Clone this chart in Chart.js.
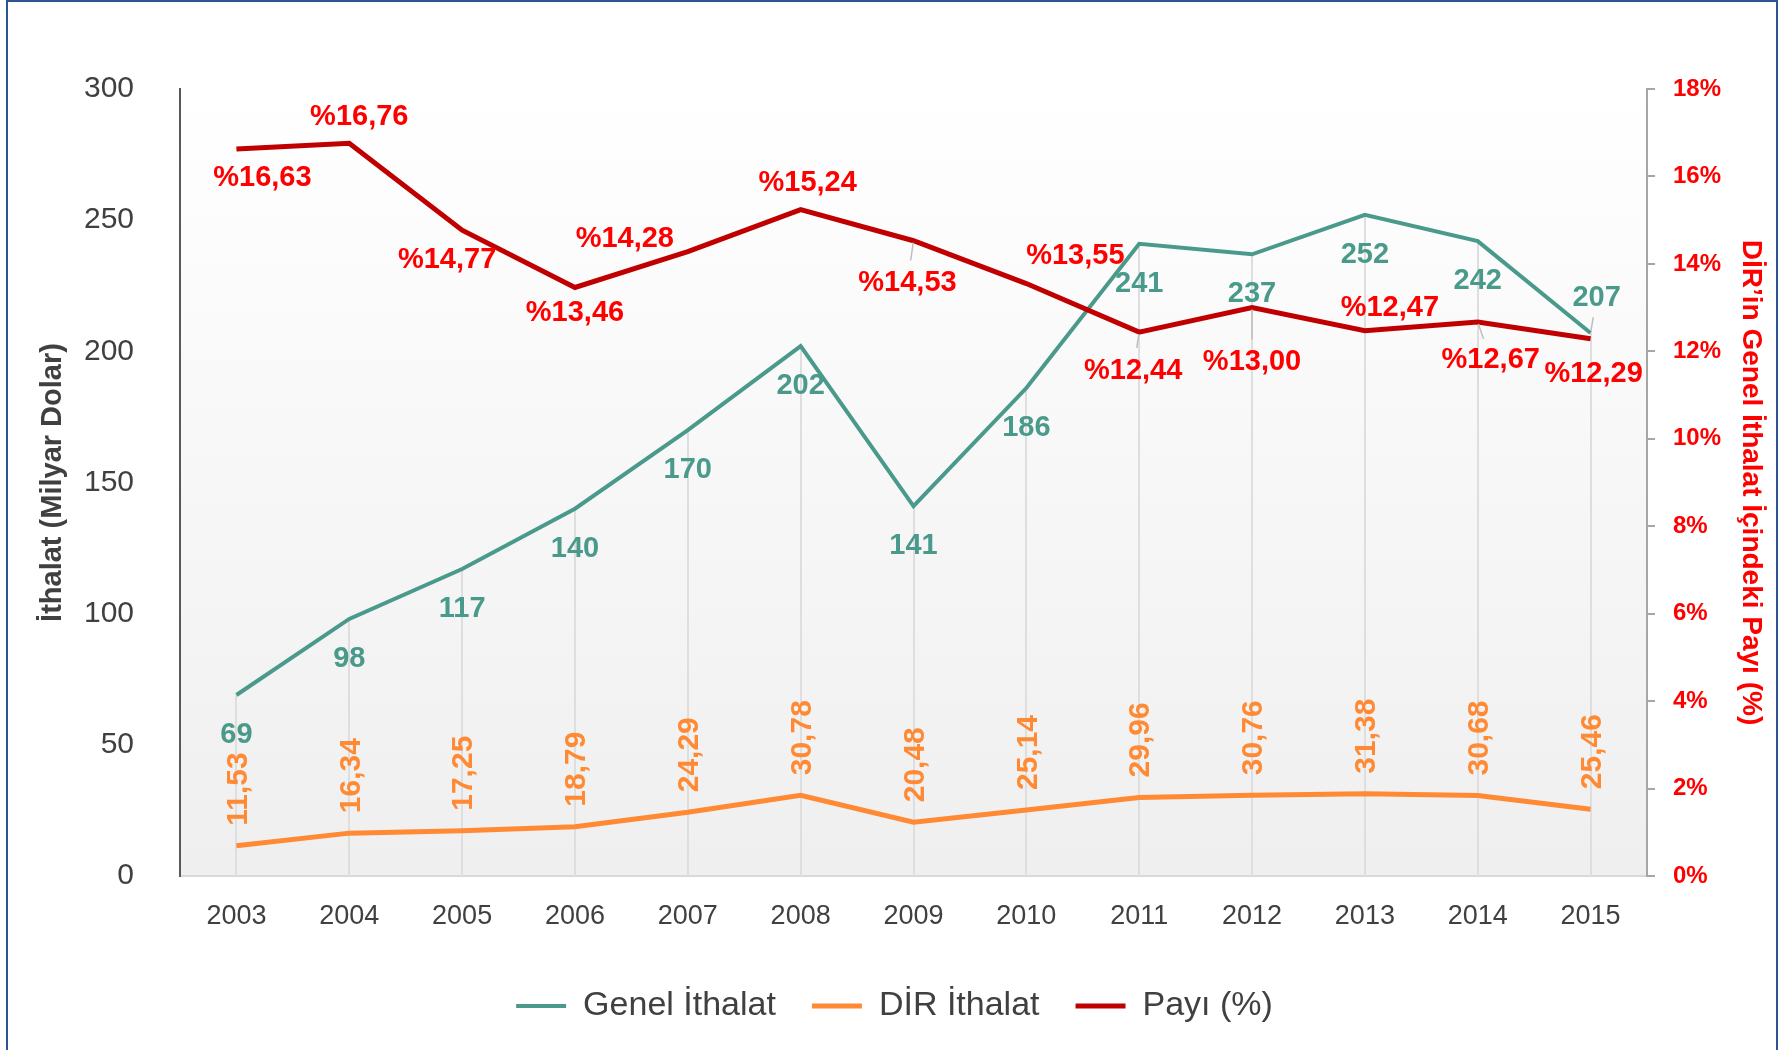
<!DOCTYPE html>
<html lang="tr">
<head>
<meta charset="utf-8">
<title>İthalat ve DİR Payı</title>
<script src="https://cdn.jsdelivr.net/npm/chart.js@4.4.1/dist/chart.umd.min.js"></script>
<style>
  html, body { margin: 0; padding: 0; background: #fff; }
  #wrap { position: relative; width: 1789px; height: 1050px; overflow: hidden; }
  #frame { position: absolute; left: 6px; top: 0; width: 1772px; height: 1100px;
           border: 2px solid #2f5496; box-sizing: border-box; pointer-events: none; }
  canvas { position: absolute; left: 0; top: 0; }
</style>
</head>
<body>
<div id="wrap">
  <canvas id="chart" width="1789" height="1050"></canvas>
  <div id="frame"></div>
</div>
<script>
// veriler
const years = ['2003', '2004', '2005', '2006', '2007', '2008', '2009', '2010', '2011', '2012', '2013', '2014', '2015'];
const genelIthalat = [69, 98, 117, 140, 170, 202, 141, 186, 241, 237, 252, 242, 207];
const dirIthalat = [11.53, 16.34, 17.25, 18.79, 24.29, 30.78, 20.48, 25.14, 29.96, 30.76, 31.38, 30.68, 25.46];
const payi = [16.63, 16.76, 14.77, 13.46, 14.28, 15.24, 14.53, 13.55, 12.44, 13.00, 12.47, 12.67, 12.29];
const leftTicks = [0, 50, 100, 150, 200, 250, 300];
const rightTicks = [0, 2, 4, 6, 8, 10, 12, 14, 16, 18];

// etiket konumları (nokta merkezine göre kaydırma, px)
const genelOffsets = [[0, 40], [0, 40], [0, 40], [0, 40], [0, 40], [0, 40], [0, 40], [0, 40], [0, 40], [0, 40], [0, 40], [0, 40], [6, -35]];
const payiOffsets = [[26, 29], [10, -26], [-15, 30], [0, 26], [-63, -13], [7, -27], [-6, 42], [49, -28], [-6, 39], [0, 54], [25, -23], [13, 38], [3, 35]];
const payiLeaders = [0, 0, 0, 0, 0, 0, 18, 0, 14, 30, 0, 16, 0];
const genelLeaders = [0, 0, 0, 0, 0, 0, 0, 0, 0, 0, 0, 0, 14];

const FONT = "'Liberation Sans', Arial, sans-serif";
const TEAL = '#4a9a8c';
const ORANGE = '#ff8a33';
const DARKRED = '#c00000';
const RED = '#ff0000';
const GREY_TXT = '#404040';

const fmt = v => v.toFixed(2).replace('.', ',');

// çizim alanı arka planı (beyazdan griye)
const plotBg = {
  id: 'plotBg',
  beforeDraw(chart) {
    const { ctx, chartArea: a } = chart;
    const g = ctx.createLinearGradient(0, a.top, 0, a.bottom);
    g.addColorStop(0, '#ffffff');
    g.addColorStop(1, '#efefef');
    ctx.save();
    ctx.fillStyle = g;
    ctx.fillRect(a.left, a.top, a.right - a.left, a.bottom - a.top);
    ctx.restore();
  }
};

// dikey düşme çizgileri
const dropLines = {
  id: 'dropLines',
  beforeDatasetsDraw(chart) {
    const { ctx, chartArea: a } = chart;
    const meta = chart.getDatasetMeta(0);
    ctx.save();
    ctx.strokeStyle = '#dedede';
    ctx.lineWidth = 2;
    meta.data.forEach(pt => {
      ctx.beginPath();
      ctx.moveTo(Math.round(pt.x), pt.y);
      ctx.lineTo(Math.round(pt.x), a.bottom);
      ctx.stroke();
    });
    ctx.restore();
  }
};

function leader(ctx, pt, off, len) {
  if (!len) return;
  const d = Math.hypot(off[0], off[1]);
  const ux = off[0] / d, uy = off[1] / d;
  ctx.beginPath();
  ctx.moveTo(pt.x + ux * 2, pt.y + uy * 2);
  ctx.lineTo(pt.x + ux * (2 + len), pt.y + uy * (2 + len));
  ctx.stroke();
}

// veri etiketleri
const valueLabels = {
  id: 'valueLabels',
  afterDatasetsDraw(chart) {
    const ctx = chart.ctx;
    ctx.save();
    ctx.textAlign = 'center';
    ctx.textBaseline = 'middle';
    ctx.strokeStyle = '#bfbfbf';
    ctx.lineWidth = 1.5;

    const m0 = chart.getDatasetMeta(0);
    ctx.font = 'bold 29px ' + FONT;
    ctx.fillStyle = TEAL;
    m0.data.forEach((pt, i) => {
      const o = genelOffsets[i];
      leader(ctx, pt, o, genelLeaders[i]);
      ctx.fillText(String(genelIthalat[i]), pt.x + o[0], pt.y + o[1]);
    });

    const m1 = chart.getDatasetMeta(1);
    ctx.font = 'bold 30px ' + FONT;
    ctx.fillStyle = ORANGE;
    m1.data.forEach((pt, i) => {
      ctx.save();
      ctx.translate(pt.x + 2, pt.y - 20);
      ctx.rotate(-Math.PI / 2);
      ctx.textAlign = 'left';
      ctx.fillText(fmt(dirIthalat[i]), 0, 0);
      ctx.restore();
    });

    const m2 = chart.getDatasetMeta(2);
    ctx.font = 'bold 29px ' + FONT;
    ctx.fillStyle = RED;
    m2.data.forEach((pt, i) => {
      const o = payiOffsets[i];
      leader(ctx, pt, o, payiLeaders[i]);
      ctx.fillText('%' + fmt(payi[i]), pt.x + o[0], pt.y + o[1]);
    });
    ctx.restore();
  }
};

new Chart(document.getElementById('chart'), {
  type: 'line',
  data: {
    labels: years,
    datasets: [{
      label: 'Genel İthalat',
      data: genelIthalat,
      borderColor: TEAL,
      backgroundColor: TEAL,
      borderWidth: 4,
      yAxisID: 'y',
      order: 2
    }, {
      label: 'DİR İthalat',
      data: dirIthalat,
      borderColor: ORANGE,
      backgroundColor: ORANGE,
      borderWidth: 5,
      yAxisID: 'y',
      order: 1
    }, {
      label: 'Payı (%)',
      data: payi,
      borderColor: DARKRED,
      backgroundColor: DARKRED,
      borderWidth: 5,
      yAxisID: 'y1',
      order: 0
    }]
  },
  options: {
    responsive: false,
    devicePixelRatio: 1,
    animation: false,
    events: [],
    elements: {
      point: { radius: 0 },
      line: { tension: 0, borderCapStyle: 'butt', borderJoinStyle: 'miter' }
    },
    layout: { padding: { left: 10, right: 10, top: 89, bottom: 17 } },
    scales: {
      x: {
        offset: true,
        grid: { display: false, drawTicks: false },
        border: { color: '#d9d9d9', width: 2 },
        ticks: { color: GREY_TXT, font: { family: FONT, size: 27 }, padding: 24, maxRotation: 0 },
        afterFit: s => { s.height = 77; }
      },
      y: {
        position: 'left',
        min: 0, max: 300,
        afterBuildTicks: s => { s.ticks = leftTicks.map(v => ({ value: v })); },
        grid: { drawOnChartArea: false, drawTicks: false },
        border: { color: '#595959', width: 2 },
        ticks: { color: GREY_TXT, font: { family: FONT, size: 30 }, padding: 46 },
        title: {
          display: true,
          text: 'İthalat (Milyar Dolar)',
          color: GREY_TXT,
          font: { family: FONT, size: 29, weight: 'bold' },
          padding: { top: 26, bottom: 0 }
        },
        afterFit: s => { s.width = 170; }
      },
      y1: {
        position: 'right',
        min: 0, max: 18,
        afterBuildTicks: s => { s.ticks = rightTicks.map(v => ({ value: v })); },
        grid: { drawOnChartArea: false, drawTicks: true, tickLength: 8, color: '#a6a6a6', lineWidth: 2 },
        border: { color: '#a6a6a6', width: 2 },
        ticks: { color: RED, font: { family: FONT, size: 24, weight: 'bold' }, padding: 18,
                 callback: v => v + '%' },
        title: {
          display: true,
          text: 'DİR’in Genel İthalat İçindeki Payı (%)',
          color: RED,
          font: { family: FONT, size: 28, weight: 'bold' },
          padding: { top: 11, bottom: 0 }
        },
        afterFit: s => { s.width = 132; }
      }
    },
    plugins: {
      legend: {
        position: 'bottom',
        labels: {
          color: GREY_TXT,
          font: { family: FONT, size: 34 },
          usePointStyle: true,
          pointStyle: 'line',
          pointStyleWidth: 50,
          padding: 36,
          sort: (a, b) => a.datasetIndex - b.datasetIndex
        }
      },
      tooltip: { enabled: false }
    }
  },
  plugins: [plotBg, dropLines, valueLabels]
});
</script>
</body>
</html>
